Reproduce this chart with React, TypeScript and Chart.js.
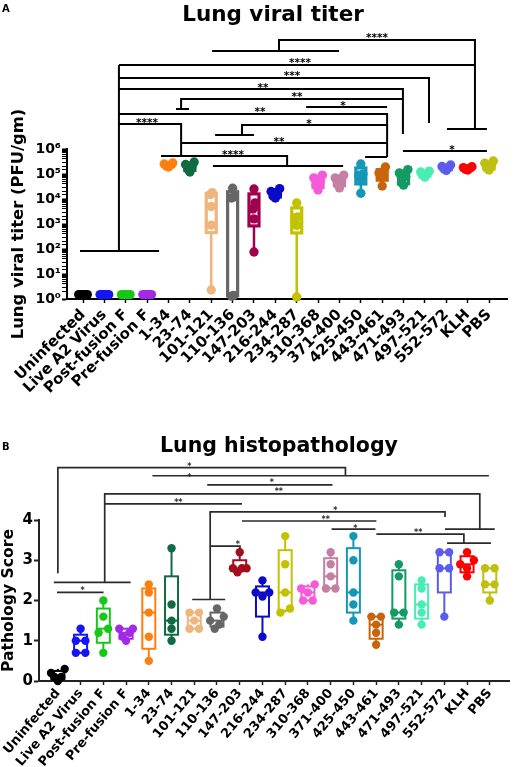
import React, { useEffect, useRef } from 'react';
import { Chart, registerables } from 'chart.js';

Chart.register(...registerables);

const FONT = '"DejaVu Sans", "Liberation Sans", Arial, sans-serif';

const categories = [
  'Uninfected', 'Live A2 Virus', 'Post-fusion F', 'Pre-fusion F', '1-34', '23-74',
  '101-121', '110-136', '147-203', '216-244', '234-287', '310-368', '371-400',
  '425-450', '443-461', '471-493', '497-521', '552-572', 'KLH', 'PBS',
];

const colorsA = [
  '#000000', '#1414f5', '#16c816', '#a22ae6', '#ff7f0e', '#0f6b44', '#f0b57c',
  '#666666', '#a0004c', '#0a0ac8', '#c2c200', '#f55ad8', '#c47fa3', '#1597b7',
  '#c8640c', '#139a66', '#47eeb2', '#5b5bf0', '#ff0000', '#bfbf10',
];

const colorsB = [
  '#000000', '#1414f5', '#16c816', '#a22ae6', '#ff7f0e', '#0f6b44', '#f0b57c',
  '#666666', '#a50d1f', '#0a0ac8', '#c2c200', '#f55ad8', '#c47fa3', '#1597b7',
  '#c8640c', '#139a66', '#47eeb2', '#5b5bf0', '#ff0000', '#bfbf10',
];

// Panel A: lung viral titer, PFU/gm (5 mice per group)
const titerPFU = [
  [1.5, 1.5, 1.5, 1.5, 1.5],
  [1.5, 1.5, 1.5, 1.5, 1.5],
  [1.5, 1.5, 1.5, 1.5, 1.5],
  [1.5, 1.5, 1.5, 1.5, 1.5],
  [1.9e5, 2.1e5, 2.3e5, 2.5e5, 2.75e5],
  [1.2e5, 1.6e5, 2.0e5, 2.4e5, 3.0e5],
  [2.3, 900, 5000, 1.5e4, 1.8e4],
  [1.3, 1.4, 1.1e4, 1.2e4, 2.7e4],
  [76, 1600, 4000, 7000, 2.5e4],
  [1.1e4, 1.3e4, 1.6e4, 2.0e4, 2.6e4],
  [1.2, 880, 1800, 1900, 6900],
  [2.3e4, 3.5e4, 5.0e4, 7.0e4, 9.0e4],
  [2.8e4, 4.0e4, 5.5e4, 7.0e4, 9.0e4],
  [1.7e4, 6.3e4, 9.0e4, 1.0e5, 2.5e5],
  [3.3e4, 8.0e4, 9.0e4, 1.1e5, 1.9e5],
  [3.6e4, 4.5e4, 8.0e4, 1.1e5, 1.5e5],
  [7.5e4, 9.0e4, 1.05e5, 1.2e5, 1.3e5],
  [1.4e5, 1.6e5, 1.8e5, 2.0e5, 2.3e5],
  [1.45e5, 1.55e5, 1.7e5, 1.8e5, 1.95e5],
  [1.45e5, 1.7e5, 2.0e5, 2.7e5, 3.3e5],
];

const titerTickLabels = ['10⁰', '10¹', '10²', '10³', '10⁴', '10⁵', '10⁶'];

// Panel B: lung pathology score
const pathologyScore = [
  [0.0, 0.1, 0.1, 0.2, 0.3],
  [0.7, 0.7, 1.0, 1.0, 1.3],
  [0.7, 1.2, 1.3, 1.6, 2.0],
  [1.0, 1.1, 1.2, 1.3, 1.3],
  [0.5, 1.1, 1.7, 2.2, 2.4],
  [1.0, 1.3, 1.5, 1.9, 3.3],
  [1.3, 1.3, 1.5, 1.7, 1.7],
  [1.3, 1.4, 1.5, 1.6, 1.8],
  [2.7, 2.8, 2.8, 2.8, 3.2],
  [1.1, 2.1, 2.2, 2.2, 2.5],
  [1.7, 1.8, 2.2, 2.9, 3.6],
  [2.0, 2.0, 2.2, 2.3, 2.4],
  [2.3, 2.3, 2.6, 2.9, 3.2],
  [1.5, 1.9, 2.2, 3.0, 3.6],
  [0.9, 1.2, 1.4, 1.6, 1.6],
  [1.4, 1.7, 1.7, 2.6, 2.9],
  [1.4, 1.7, 1.9, 2.3, 2.5],
  [1.6, 2.8, 2.8, 3.2, 3.2],
  [2.6, 2.8, 2.9, 3.0, 3.2],
  [2.0, 2.4, 2.4, 2.8, 2.8],
];

const scoreTicks = [0, 1, 2, 3, 4];

// Significance brackets, panel A: [category index, log10 titer]
const sigPathsA = [
  [[6.04, 9.92], [11.98, 9.92]],
  [[9.17, 9.92], [9.17, 10.36], [18.34, 10.36], [18.34, 6.8]],
  [[17.03, 6.8], [18.9, 6.8]],
  [[1.68, 9.36], [18.34, 9.36]],
  [[1.68, 9.36], [1.68, 1.92]],
  [[-0.14, 1.92], [3.56, 1.92]],
  [[1.68, 8.84], [16.19, 8.84], [16.19, 7.04]],
  [[1.68, 8.4], [14.97, 8.4], [14.97, 6.6]],
  [[4.35, 7.6], [4.96, 7.6]],
  [[4.59, 7.6], [4.59, 8.0], [14.97, 8.0]],
  [[10.44, 7.68], [14.23, 7.68]],
  [[1.68, 7.4], [14.23, 7.4], [14.23, 5.68]],
  [[13.2, 5.68], [14.23, 5.68]],
  [[1.68, 7.0], [4.59, 7.0], [4.59, 5.72]],
  [[3.65, 5.72], [9.55, 5.72], [9.55, 5.32]],
  [[6.08, 5.32], [12.17, 5.32]],
  [[6.18, 6.56], [8.0, 6.56]],
  [[7.44, 6.56], [7.44, 6.96], [14.23, 6.96]],
  [[4.59, 6.24], [14.23, 6.24]],
  [[14.97, 5.92], [18.9, 5.92]],
];

const sigLabelsA = [
  { x: 13.76, level: 10.56, text: '****' },
  { x: 10.15, level: 9.56, text: '****' },
  { x: 9.78, level: 9.06, text: '***' },
  { x: 8.42, level: 8.58, text: '**' },
  { x: 10.01, level: 8.2, text: '**' },
  { x: 12.17, level: 7.84, text: '*' },
  { x: 8.28, level: 7.6, text: '**' },
  { x: 2.99, level: 7.18, text: '****' },
  { x: 7.02, level: 5.9, text: '****' },
  { x: 10.58, level: 7.14, text: '*' },
  { x: 9.17, level: 6.42, text: '**' },
  { x: 17.27, level: 6.1, text: '*' },
];

// Significance brackets, panel B: [category index, score]
const sigPathsB = [
  [[0, 2.675], [0, 5.3], [12.65, 5.3], [12.65, 5.1]],
  [[4.16, 5.1], [18.96, 5.1]],
  [[6.57, 4.875], [12.08, 4.875]],
  [[-0.18, 2.45], [3.2, 2.45]],
  [[2.06, 2.45], [2.06, 4.65], [18.56, 4.65], [18.56, 3.775]],
  [[17.03, 3.775], [19.22, 3.775]],
  [[2.06, 4.4], [8.1, 4.4]],
  [[5.91, 2.025], [7.36, 2.025]],
  [[6.7, 2.025], [6.7, 4.2], [17.03, 4.2], [17.03, 4.075]],
  [[6.7, 3.35], [8.01, 3.35], [8.01, 3.275]],
  [[8.1, 3.975], [14.01, 3.975]],
  [[12.04, 3.775], [13.97, 3.775]],
  [[14.01, 3.65], [17.86, 3.65], [17.86, 3.425]],
  [[17.12, 3.425], [19.05, 3.425]],
  [[-0.04, 2.2], [2.01, 2.2]],
];

const sigLabelsB = [
  { x: 5.78, level: 5.38, text: '*' },
  { x: 5.78, level: 5.12, text: '*' },
  { x: 9.41, level: 4.975, text: '*' },
  { x: 9.72, level: 4.75, text: '**' },
  { x: 5.3, level: 4.5, text: '**' },
  { x: 12.21, level: 4.3, text: '*' },
  { x: 7.92, level: 3.45, text: '*' },
  { x: 11.78, level: 4.075, text: '**' },
  { x: 13.09, level: 3.85, text: '*' },
  { x: 15.85, level: 3.75, text: '**' },
  { x: 1.09, level: 2.3, text: '*' },
];

// Prism-style quartiles ((n+1)p method)
function boxStats(vals: number[]) {
  const s = [...vals].sort((a, b) => a - b);
  const n = s.length;
  const q = (p: number) => {
    const pos = (n + 1) * p;
    const lo = Math.floor(pos);
    const hi = Math.ceil(pos);
    const a = s[Math.max(0, Math.min(n - 1, lo - 1))];
    const b = s[Math.max(0, Math.min(n - 1, hi - 1))];
    return a + (b - a) * (pos - lo);
  };
  return { min: s[0], q1: q(0.25), med: q(0.5), q3: q(0.75), max: s[n - 1] };
}

// simple beeswarm-like horizontal spreading of close values
function swarm(vals: number[], thr: number, step: number, maxHalf: number) {
  const order = vals.map((_, i) => i).sort((a, b) => vals[a] - vals[b]);
  const offs = new Array(vals.length).fill(0);
  let cluster: number[] = [order[0]];
  const flush = () => {
    const n = cluster.length;
    if (n < 2) return;
    const st = Math.min(step, (2 * maxHalf) / (n - 1));
    const seq: number[] = [];
    if (n % 2 === 1) {
      seq.push(0);
      for (let k = 1; seq.length < n; k++) { seq.push(-k); if (seq.length < n) seq.push(k); }
    } else {
      for (let k = 0; seq.length < n; k++) { seq.push(-(k + 0.5)); seq.push(k + 0.5); }
    }
    cluster.forEach((idx, j) => { offs[idx] = seq[j] * st; });
  };
  for (let i = 1; i < order.length; i++) {
    if (vals[order[i]] - vals[order[i - 1]] < thr) cluster.push(order[i]);
    else { flush(); cluster = [order[i]]; }
  }
  flush();
  return offs;
}

function makeBoxPlugin(groups: number[][], colors: string[], st: any) {
  return {
    id: 'boxes',
    beforeDatasetsDraw(chart: any) {
      const { ctx } = chart;
      const x = chart.scales.x;
      const y = chart.scales.y;
      ctx.save();
      groups.forEach((vals, i) => {
        const s = boxStats(vals);
        const cx = x.getPixelForValue(i);
        const yMin = y.getPixelForValue(s.min);
        const yMax = y.getPixelForValue(s.max);
        const yQ1 = y.getPixelForValue(s.q1);
        const yQ3 = y.getPixelForValue(s.q3);
        const yMed = y.getPixelForValue(s.med);
        ctx.strokeStyle = colors[i];
        ctx.lineWidth = st.whisker;
        ctx.beginPath();
        ctx.moveTo(cx, yMin);
        ctx.lineTo(cx, yMax);
        ctx.stroke();
        const top = Math.min(yQ1, yQ3);
        const h = Math.abs(yQ1 - yQ3);
        ctx.fillStyle = '#ffffff';
        ctx.fillRect(cx - st.half, top, 2 * st.half, h);
        ctx.lineWidth = st.border;
        ctx.strokeRect(cx - st.half, top, 2 * st.half, h);
        ctx.beginPath();
        ctx.moveTo(cx - st.half, yMed);
        ctx.lineTo(cx + st.half, yMed);
        ctx.stroke();
      });
      ctx.restore();
    },
  };
}

function makeBracketPlugin(paths: number[][][], labels: any[], toValue: (v: number) => number, st: any) {
  return {
    id: 'brackets',
    afterDatasetsDraw(chart: any) {
      const { ctx } = chart;
      const x = chart.scales.x;
      const y = chart.scales.y;
      ctx.save();
      ctx.strokeStyle = st.color;
      ctx.lineWidth = st.lineWidth;
      ctx.lineJoin = 'miter';
      ctx.lineCap = 'butt';
      paths.forEach((p) => {
        ctx.beginPath();
        p.forEach(([xi, lv], k) => {
          const px = x.getPixelForValue(xi);
          const py = y.getPixelForValue(toValue(lv));
          if (k === 0) ctx.moveTo(px, py); else ctx.lineTo(px, py);
        });
        ctx.stroke();
      });
      ctx.fillStyle = st.color;
      ctx.font = `${st.starWeight} ${st.starSize}px ${FONT}`;
      ctx.textAlign = 'center';
      ctx.textBaseline = 'alphabetic';
      labels.forEach((l) => {
        ctx.fillText(l.text, x.getPixelForValue(l.x), y.getPixelForValue(toValue(l.level)) + 0.58 * st.starSize);
      });
      ctx.restore();
    },
  };
}

function makeTextPlugin(letter: string, title: string, st: any) {
  return {
    id: 'panelText',
    afterDraw(chart: any) {
      const { ctx } = chart;
      ctx.save();
      ctx.fillStyle = '#000';
      ctx.textBaseline = 'alphabetic';
      ctx.textAlign = 'left';
      ctx.font = `bold ${st.letterSize}px ${FONT}`;
      ctx.fillText(letter, st.letterX, st.letterY);
      ctx.textAlign = 'center';
      ctx.font = `bold ${st.titleSize}px ${FONT}`;
      ctx.fillText(title, st.titleX, st.titleY);
      ctx.restore();
    },
  };
}

function makeDatasets(groups: number[][], colors: string[], transform: (v: number) => number, sw: any, radius: number) {
  return groups.map((vals, i) => {
    const offs = swarm(vals.map(transform), sw.thr, sw.step, sw.maxHalf);
    return {
      label: categories[i],
      data: vals.map((v, k) => ({ x: i + offs[k], y: v })),
      backgroundColor: colors[i],
      borderColor: colors[i],
      borderWidth: 0,
      pointRadius: radius,
      pointHoverRadius: radius,
      clip: false,
    };
  });
}

export default function App() {
  const refA = useRef<HTMLCanvasElement>(null);
  const refB = useRef<HTMLCanvasElement>(null);

  useEffect(() => {
    const chartA = new Chart(refA.current as HTMLCanvasElement, {
      type: 'scatter',
      data: { datasets: makeDatasets(titerPFU, colorsA, Math.log10, { thr: 0.3, step: 0.1, maxHalf: 0.2 }, 4.7) as any },
      options: {
        animation: false,
        responsive: false,
        events: [],
        layout: { padding: { top: 149, right: 7, left: 0, bottom: 0 } },
        plugins: { legend: { display: false }, tooltip: { enabled: false }, title: { display: false } },
        scales: {
          x: {
            type: 'linear',
            min: -0.75,
            max: 19.84,
            afterBuildTicks: (s: any) => { s.ticks = categories.map((_, i) => ({ value: i })); },
            afterFit: (s: any) => { s.height = 101; s.paddingLeft = 0; s.paddingRight = 0; },
            ticks: {
              autoSkip: false, minRotation: 45, maxRotation: 45, padding: 3, color: '#000',
              font: { family: FONT, size: 15, weight: 'bold' },
              callback: (v: any) => categories[v] ?? '',
            },
            grid: { drawOnChartArea: false, drawTicks: true, tickLength: 4, tickWidth: 1.5, tickColor: '#000' },
            border: { display: true, color: '#000', width: 2 },
          },
          y: {
            type: 'logarithmic',
            min: 1,
            max: 1e6,
            afterFit: (s: any) => { s.width = 67; s.paddingTop = 0; s.paddingBottom = 0; },
            ticks: {
              autoSkip: false, padding: 1, color: '#000',
              font: { family: FONT, size: 14, weight: 'bold' },
              callback: (v: any) => {
                const l = Math.log10(v);
                const r = Math.round(l);
                return Math.abs(l - r) < 1e-9 ? titerTickLabels[r] : '';
              },
            },
            grid: {
              drawOnChartArea: false, drawTicks: true, tickLength: 5, tickColor: '#000',
              tickWidth: (c: any) => (c.tick && c.tick.major ? 2 : 1),
            },
            border: { display: true, color: '#000', width: 2 },
            title: {
              display: true, text: 'Lung viral titer (PFU/gm)', color: '#000',
              font: { family: FONT, size: 16.4, weight: 'bold' },
              padding: { top: 8.6, bottom: 0 },
            },
          },
        },
      } as any,
      plugins: [
        makeBoxPlugin(titerPFU, colorsA, { half: 5, border: 3.2, whisker: 2.5 }),
        makeBracketPlugin(sigPathsA, sigLabelsA, (lv) => Math.pow(10, lv), { color: '#000', lineWidth: 2, starSize: 10.5, starWeight: 'bold' }),
        makeTextPlugin('A', 'Lung viral titer', { letterSize: 10, letterX: 2, letterY: 12, titleSize: 21.5, titleX: 273, titleY: 20.7 }),
      ] as any,
    });

    const chartB = new Chart(refB.current as HTMLCanvasElement, {
      type: 'scatter',
      data: { datasets: makeDatasets(pathologyScore, colorsB, (v) => v, { thr: 0.15, step: 0.42, maxHalf: 0.3 }, 4.2) as any },
      options: {
        animation: false,
        responsive: false,
        events: [],
        layout: { padding: { top: 120, right: 2, left: 0, bottom: 0 } },
        plugins: { legend: { display: false }, tooltip: { enabled: false }, title: { display: false } },
        scales: {
          x: {
            type: 'linear',
            min: -0.83,
            max: 19.88,
            afterBuildTicks: (s: any) => { s.ticks = categories.map((_, i) => ({ value: i })); },
            afterFit: (s: any) => { s.height = 86; s.paddingLeft = 0; s.paddingRight = 0; },
            ticks: {
              autoSkip: false, minRotation: 50, maxRotation: 50, padding: 1, color: '#000',
              font: { family: FONT, size: 13, weight: 'bold' },
              callback: (v: any) => categories[v] ?? '',
            },
            grid: { drawOnChartArea: false, drawTicks: true, tickLength: 4, tickWidth: 1.5, tickColor: '#222' },
            border: { display: true, color: '#222', width: 2 },
          },
          y: {
            type: 'linear',
            min: 0,
            max: 4,
            afterBuildTicks: (s: any) => { s.ticks = scoreTicks.map((v) => ({ value: v })); },
            afterFit: (s: any) => { s.width = 39; s.paddingTop = 0; s.paddingBottom = 0; },
            ticks: {
              autoSkip: false, padding: 1, color: '#000',
              font: { family: FONT, size: 15, weight: 'bold' },
              callback: (v: any) => String(v),
            },
            grid: { drawOnChartArea: false, drawTicks: true, tickLength: 5, tickWidth: 2, tickColor: '#222' },
            border: { display: true, color: '#222', width: 2 },
            title: {
              display: true, text: 'Pathology Score', color: '#000',
              font: { family: FONT, size: 15.6, weight: 'bold' },
              padding: { top: 0, bottom: 0 },
            },
          },
        },
      } as any,
      plugins: [
        makeBoxPlugin(pathologyScore, colorsB, { half: 6.5, border: 2, whisker: 2 }),
        makeBracketPlugin(sigPathsB, sigLabelsB, (lv) => lv, { color: '#2a2a2a', lineWidth: 1.7, starSize: 8, starWeight: 'bold' }),
        makeTextPlugin('B', 'Lung histopathology', { letterSize: 10, letterX: 2, letterY: 50, titleSize: 20.5, titleX: 279, titleY: 52 }),
      ] as any,
    });

    return () => {
      chartA.destroy();
      chartB.destroy();
    };
  }, []);

  return (
    <div style={{ position: 'absolute', left: 0, top: 0, width: 514, height: 767, background: '#fff' }}>
      <canvas ref={refA} width={514} height={400} style={{ position: 'absolute', left: 0, top: 0 }} />
      <canvas ref={refB} width={514} height={367} style={{ position: 'absolute', left: 0, top: 400 }} />
    </div>
  );
}
